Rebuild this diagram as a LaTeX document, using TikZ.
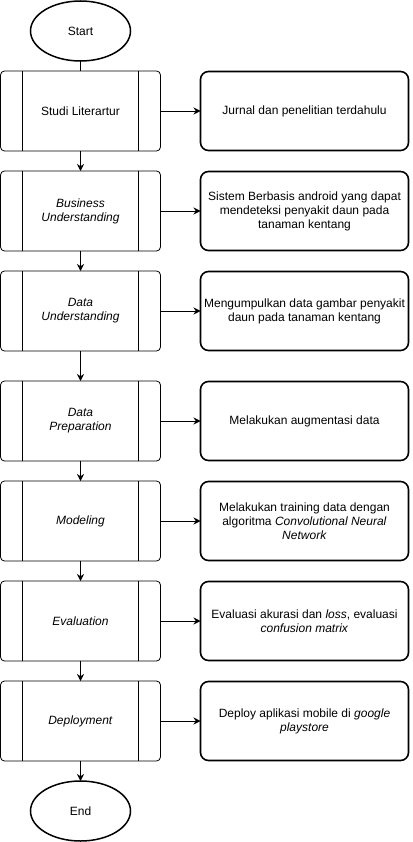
\documentclass[tikz,border=0pt]{standalone}
\usepackage{fontspec}
\setmainfont{Liberation Sans}
\usetikzlibrary{positioning, shapes.geometric, arrows.meta}

\begin{document}
\begin{tikzpicture}[
        x=1pt, y=-1pt,
        every node/.style={font=\fontsize{12}{14}\selectfont, align=center, outer sep=0pt},
        terminal/.style={ellipse, draw, line width=1.5pt, minimum width=100pt, minimum height=60pt, inner sep=0pt},
        proc/.style={rectangle, draw, line width=0.8pt, rounded corners=4pt, minimum width=160pt, minimum height=80pt},
        info/.style={rectangle, draw, line width=1.6pt, rounded corners=8pt, minimum width=208pt, minimum height=79pt, inner sep=2pt},
        arr/.style={-{Stealth[length=7pt,width=7pt]}, line width=0.8pt},
        node distance=20pt and 40pt,
      ]
      \useasboundingbox (0,0) rectangle (412,842);
      \node[terminal] (start) at (80.5,31) {Start};
      \node[proc, below=10pt of start] (sl) {Studi Literartur};
      \node[proc, below=of sl] (bu) {\textit{Business}\\\textit{Understanding}};
      \node[proc, below=of bu] (du) {\textit{Data}\\\textit{Understanding}};
      \node[proc, below=30pt of du] (dp) {\textit{Data}\\\textit{Preparation}};
      \node[proc, below=of dp] (md) {\textit{Modeling}};
      \node[proc, below=of md] (ev) {\textit{Evaluation}};
      \node[proc, below=of ev] (dl) {\textit{Deployment}};
      \node[terminal, below=of dl] (end) {End};
      \foreach\n in {sl,bu,du,dp,md,ev,dl}{
        \draw[line width=0.8pt] ([xshift=22pt]\n.north west) -- ([xshift=22pt]\n.south west)
          ([xshift=-22pt]\n.north east) -- ([xshift=-22pt]\n.south east);
      }
      % keterangan tiap tahap
      \node[info, right=of sl] (jr) {Jurnal dan penelitian terdahulu};
      \node[info, right=of bu] (sb) {Sistem Berbasis android yang dapat\\mendeteksi penyakit daun pada\\tanaman kentang};
      \node[info, right=of du] (mg) {Mengumpulkan data gambar penyakit\\daun pada tanaman kentang};
      \node[info, right=of dp] (ma) {Melakukan augmentasi data};
      \node[info, right=of md] (mt) {Melakukan training data dengan\\algoritma \textit{Convolutional Neural}\\\textit{Network}};
      \node[info, right=of ev] (ea) {Evaluasi akurasi dan \textit{loss}, evaluasi\\\textit{confusion matrix}};
      \node[info, right=of dl] (da) {Deploy aplikasi mobile di \textit{google}\\\textit{playstore}};
      \draw[line width=0.8pt] (start) -- (sl);
      \draw[arr] (sl) -- (bu);
      \draw[arr] (bu) -- (du);
      \draw[arr] (du) -- (dp);
      \draw[arr] (dp) -- (md);
      \draw[arr] (md) -- (ev);
      \draw[arr] (ev) -- (dl);
      \draw[arr] (dl) -- (end);
      \draw[arr] (sl) -- (jr);
      \draw[arr] (bu) -- (sb);
      \draw[arr] (du) -- (mg);
      \draw[arr] (dp) -- (ma);
      \draw[arr] (md) -- (mt);
      \draw[arr] (ev) -- (ea);
      \draw[arr] (dl) -- (da);
    \end{tikzpicture}
\end{document}
